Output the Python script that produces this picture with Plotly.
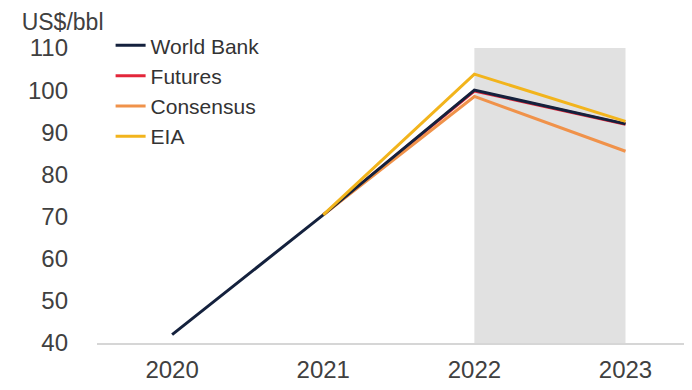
import plotly.graph_objects as go

years = [2020, 2021, 2022, 2023]
forecast_years = [2021, 2022, 2023]
world_bank = [42, 70.4, 100, 92]
futures = [70.4, 99.8, 91.9]
consensus = [70.4, 98.5, 85.5]
eia = [70.4, 103.8, 92.6]
shaded_period = [2022, 2023]
y_ticks = [40, 50, 60, 70, 80, 90, 100, 110]
x_ticks = [2020, 2021, 2022, 2023]

FONT = "Liberation Sans, Arial, sans-serif"
TXT = "#404040"

fig = go.Figure()
fig.add_shape(type="rect", xref="x", yref="y",
              x0=shaded_period[0], x1=shaded_period[1], y0=40, y1=110,
              fillcolor="#e1e1e1", line_width=0, layer="below")

# drawing order: futures underneath, then consensus, world bank, EIA on top
fig.add_trace(go.Scatter(x=forecast_years, y=futures, mode="lines", name="Futures",
                         legendrank=2, line=dict(color="#e3263a", width=3)))
fig.add_trace(go.Scatter(x=forecast_years, y=consensus, mode="lines", name="Consensus",
                         legendrank=3, line=dict(color="#f0924a", width=3)))
fig.add_trace(go.Scatter(x=years, y=world_bank, mode="lines", name="World Bank",
                         legendrank=1, line=dict(color="#14213d", width=3)))
fig.add_trace(go.Scatter(x=forecast_years, y=eia, mode="lines", name="EIA",
                         legendrank=4, line=dict(color="#f2b41c", width=3)))

fig.update_layout(
    width=684, height=382,
    margin=dict(l=89, r=0, t=40, b=47, autoexpand=False),
    paper_bgcolor="white", plot_bgcolor="white",
    font=dict(family=FONT, size=24, color=TXT),
    title=dict(text="US$/bbl", x=0.02, xanchor="left", y=0.99, yanchor="top",
               pad=dict(t=2),
               font=dict(family=FONT, size=23, color=TXT)),
    showlegend=True,
    legend=dict(x=0.15, y=0.955, xref="container", yref="container",
                xanchor="left", yanchor="top",
                bgcolor="rgba(0,0,0,0)", font=dict(family=FONT, size=21, color="#333333"),
                tracegroupgap=0, itemwidth=30),
    xaxis=dict(range=[2019.503, 2023.44], tickvals=x_ticks, ticktext=[str(v) for v in x_ticks],
               showgrid=False, zeroline=False, showline=True, linecolor="#d6d6d6", linewidth=2,
               ticks="", ticklabelstandoff=4, automargin=False,
               tickfont=dict(family=FONT, size=24, color=TXT)),
    yaxis=dict(range=[40, 110], tickvals=y_ticks, showgrid=False, zeroline=False,
               showline=False, ticks="", ticklabelstandoff=28, automargin=False,
               tickfont=dict(family=FONT, size=24, color=TXT)),
)

fig.write_html("out.html")
